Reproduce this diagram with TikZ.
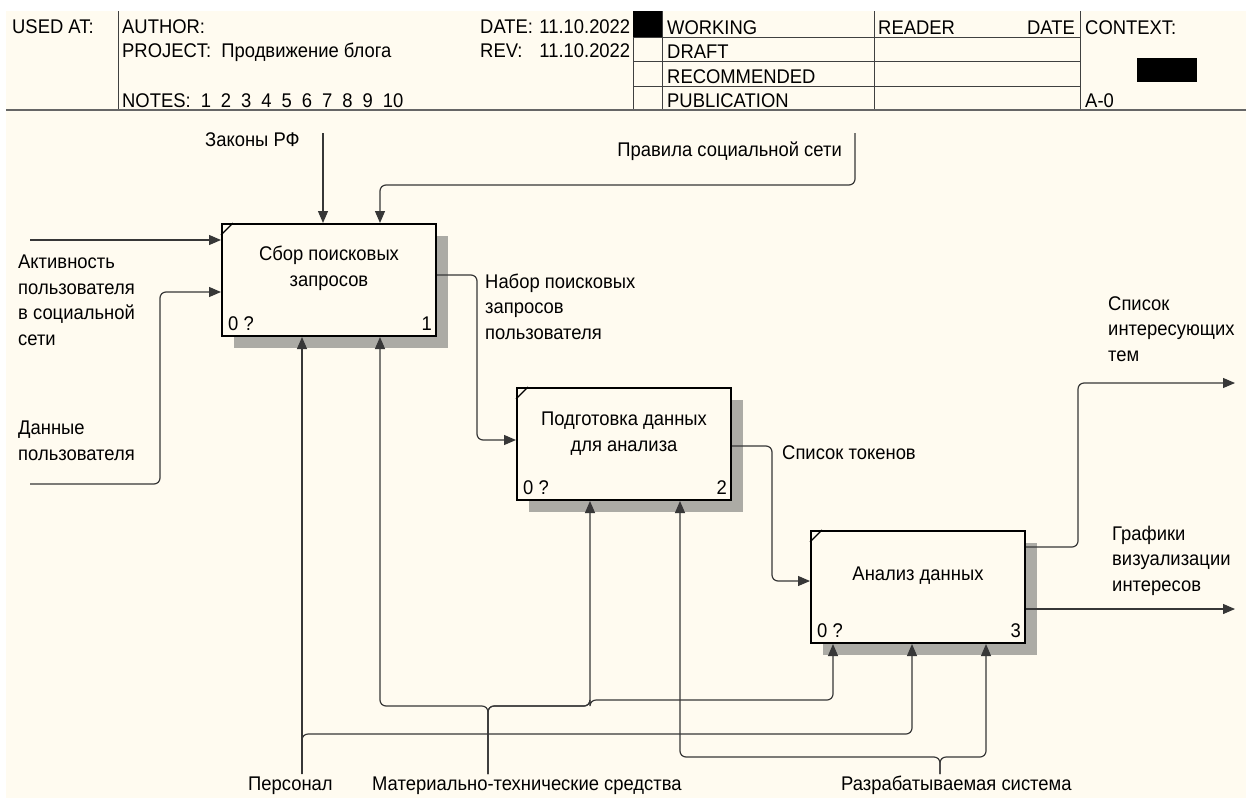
\documentclass[tikz,border=0pt]{standalone}
\usepackage{fontspec}
\setmainfont{Liberation Sans}[FakeStretch=0.93]
\usetikzlibrary{arrows.meta,calc,shadows}

\definecolor{paper}{RGB}{255,251,240}
\definecolor{shade}{RGB}{172,171,165}
\definecolor{wire}{RGB}{55,55,55}

\begin{document}
\begin{tikzpicture}[x=1pt, y=-1pt,
    txt/.style={font=\fontsize{19.8}{25.5}\selectfont, inner sep=0pt, align=left},
    func/.style={draw, line width=2pt, fill=paper, minimum width=214pt, minimum height=112pt,
                 inner sep=0pt, anchor=north west,
                 drop shadow={shadow xshift=12pt, shadow yshift=-12pt, fill=shade, opacity=1}},
    arr/.style={draw=wire, line width=1.2pt, rounded corners=6pt, -{Triangle[length=12pt,width=10pt]}},
    hdr/.style={draw=black!75, line width=1pt}]
            \useasboundingbox (0,0) rectangle (1246,798);
            \fill[white] (0,0) rectangle (1246,798);
            \fill[paper] (6,11) rectangle (1246,798);

            % --- шапка бланка IDEF0 ---
            \draw[hdr] (118,11) -- (118,110);
            \draw[hdr] (633,11) -- (633,110);
            \draw[hdr] (662,11) -- (662,110);
            \draw[hdr] (874,11) -- (874,110);
            \draw[hdr] (1080,11) -- (1080,110);
            \foreach \y in {37,61,86} \draw[hdr] (633,\y) -- (1080,\y);
            \fill (633,11) rectangle (662,37);
            \fill (1137,58) rectangle (1197,82);
            \draw[black!60, line width=2pt] (6,110) -- (1246,110);
            \node[txt, anchor=base west] (usedat) at (12,33) {USED AT:};
            \node[txt, anchor=base west] (author) at (122,33) {AUTHOR:};
            \node[txt, anchor=base west] (project) at (122,57) {PROJECT:\ \ Продвижение блога};
            \node[txt, anchor=base west] (notes) at (122,107) {NOTES:\hspace{10pt}1\hspace{10pt}2\hspace{10pt}3\hspace{10pt}4\hspace{10pt}5\hspace{10pt}6\hspace{10pt}7\hspace{10pt}8\hspace{10pt}9\hspace{10pt}10};
            \node[txt, anchor=base west] (date) at (480,33) {\hbox to 150pt{DATE:\hfill 11.10.2022}};
            \node[txt, anchor=base west] (rev) at (480,57) {\hbox to 150pt{REV:\hfill 11.10.2022}};
            \node[txt, anchor=base west] (working) at (667,34) {WORKING};
            \node[txt, anchor=base west] (draft) at (667,58) {DRAFT};
            \node[txt, anchor=base west] (recom) at (667,83) {RECOMMENDED};
            \node[txt, anchor=base west] (publ) at (667,107) {PUBLICATION};
            \node[txt, anchor=base west] (reader) at (878,34) {READER};
            \node[txt, anchor=base east] (rdate) at (1075,34) {DATE};
            \node[txt, anchor=base west] (context) at (1085,34) {CONTEXT:};
            \node[txt, anchor=base west] (node) at (1085,107) {A-0};

            % --- функциональные блоки ---
            \node[func] (box1) at (221,223) {};
            \node[func] (box2) at (516,387) {};
            \node[func] (box3) at (810,530) {};
            \foreach \b/\n in {box1/1, box2/2, box3/3} {
                \draw[line width=1.2pt] ($(\b.north west)+(0,12)$) -- ($(\b.north west)+(12,0)$);
                \node[txt, anchor=base west] (\b c) at ($(\b.south west)+(7,-7)$) {0 ?};
                \node[txt, anchor=base east] (\b n) at ($(\b.south east)+(-5,-7)$) {\n};
            }
            % base = последняя строка
            \node[txt, align=center, anchor=base] (t1) at ($(box1.north)+(0,63)$) {Сбор поисковых\\запросов};
            \node[txt, align=center, anchor=base] (t2) at ($(box2.north)+(0,64)$) {Подготовка данных\\для анализа};
            \node[txt, align=center, anchor=base] (t3) at ($(box3.north)+(0,50)$) {Анализ данных};

            % --- входы и управление ---
            \coordinate (in1) at (30,240);
            \coordinate (in2) at (30,484);
            \coordinate (ctl1) at (323,133);
            \coordinate (ctl2) at (855,133);
            \draw[arr] (in1) -- (in1 -| box1.west);
            \draw[arr] (in2) -- ++(130,0) |- ($(box1.north west)+(0,69)$);
            \draw[arr] (ctl1) -- (ctl1 |- box1.north);
            \draw[arr] (ctl2) -- ++(0,52) -| ($(box1.north west)+(159,0)$);
            \node[txt, anchor=base west] (l_law) at (205,146) {Законы РФ};
            \node[txt, anchor=base east] (l_rules) at (842,156) {Правила социальной сети};
            \node[txt, anchor=base west] (l_act) at (18,345) {Активность\\пользователя\\в социальной\\сети};
            \node[txt, anchor=base west] (l_data) at (18,460) {Данные\\пользователя};

            % --- выходы ---
            \coordinate (out1) at (1235,383);
            \coordinate (out2) at (1235,609);
            \draw[arr] ($(box1.north east)+(0,52)$) -- ++(40,0) |- ($(box2.north west)+(0,53)$);
            \draw[arr] ($(box2.north east)+(0,59)$) -- ++(40,0) |- ($(box3.north west)+(0,51)$);
            \draw[arr] ($(box3.north east)+(0,17)$) -- ++(52,0) |- (out1);
            \draw[arr] ($(box3.north east)+(0,79)$) -- (out2);
            \node[txt, anchor=base west] (l_set) at (485,339) {Набор поисковых\\запросов\\пользователя};
            \node[txt, anchor=base west] (l_tok) at (782,459) {Список токенов};
            \node[txt, anchor=base west] (l_top) at (1108,361) {Список\\интересующих\\тем};
            \node[txt, anchor=base west] (l_gr) at (1112,591) {Графики\\визуализации\\интересов};

            % --- механизмы ---
            \coordinate (mech1) at (302,774);
            \coordinate (mech2) at (488,774);
            \coordinate (mech3) at (940,774);
            \draw[arr] (mech1) -- (mech1 |- box1.south);
            \draw[arr] (mech1) -- ++(0,-40) -| ($(box3.south west)+(102,0)$);
            \draw[arr] (mech2) -- ++(0,-68) -| ($(box1.south west)+(159,0)$);
            \draw[arr] (mech2) -- ++(0,-68) -| ($(box2.south west)+(74,0)$);
            \draw[arr] (mech2) -- ++(0,-68) -- ++(102,0) -- ++(0,-6) -| ($(box3.south west)+(23,0)$);
            \draw[arr] (mech3) -- ++(0,-17) -| ($(box2.south west)+(164,0)$);
            \draw[arr] (mech3) -- ++(0,-17) -| ($(box3.south west)+(176,0)$);
            \node[txt, anchor=base west] (l_pers) at (248,790) {Персонал};
            \node[txt, anchor=base west] (l_mat) at (372,790) {Материально-технические средства};
            \node[txt, anchor=base west] (l_sys) at (841,790) {Разрабатываемая система};
        \end{tikzpicture}
\end{document}
